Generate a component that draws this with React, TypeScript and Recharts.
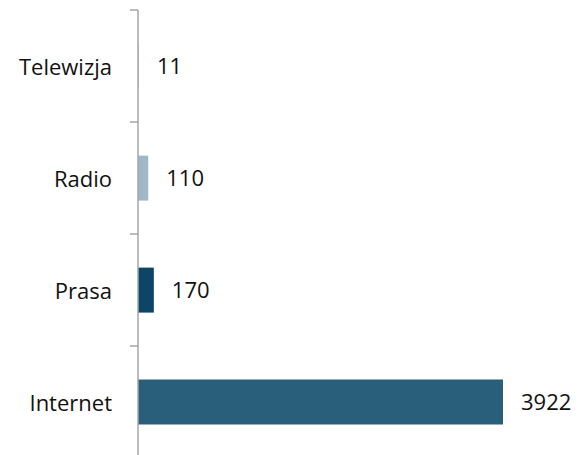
import { BarChart, Bar, XAxis, YAxis, Cell, LabelList } from "recharts";

const categories = ["Telewizja", "Radio", "Prasa", "Internet"];
const values = [11, 110, 170, 3922];
const barColors = ["#b9cdd9", "#9fb8c8", "#0c4566", "#2a5f7b"];

const data = categories.map((name, i) => ({ name, value: values[i] }));

const FONT = "'Open Sans', 'Noto Sans', sans-serif";
const TICK_SIZE = 8;
const TICK_MARGIN = 18;

const CategoryTick = (props: any) => {
  const { x, y, payload, index, visibleTicksCount } = props;
  const half = payload && payload.offset ? payload.offset : 56;
  const axisX = x + TICK_MARGIN + TICK_SIZE;
  const isLast = index === (visibleTicksCount ?? categories.length) - 1;
  return (
    <g>
      <line x1={axisX - TICK_SIZE} x2={axisX} y1={y - half} y2={y - half} stroke="#a6a6a6" strokeWidth={1.5} />
      {isLast && (
        <line x1={axisX - TICK_SIZE} x2={axisX} y1={y + half} y2={y + half} stroke="#a6a6a6" strokeWidth={1.5} />
      )}
      <text x={x} y={y} textAnchor="end" dominantBaseline="central" fontSize={22} fill="#111" fontFamily={FONT}>
        {payload.value}
      </text>
    </g>
  );
};

export default function App() {
  return (
    <div style={{ position: "fixed", left: 0, top: 0, width: 579, height: 455, overflow: "hidden", background: "#fff" }}>
      <BarChart
        width={579}
        height={458}
        data={data}
        layout="vertical"
        margin={{ top: 10, right: 76, bottom: 0, left: 0 }}
        barCategoryGap="30%"
      >
        <XAxis type="number" hide domain={[0, 3922]} />
        <YAxis
          type="category"
          dataKey="name"
          width={138}
          tickSize={TICK_SIZE}
          tickMargin={TICK_MARGIN}
          tickLine={false}
          axisLine={{ stroke: "#a6a6a6", strokeWidth: 1.5 }}
          tick={<CategoryTick />}
          interval={0}
        />
        <Bar dataKey="value" isAnimationActive={false}>
          {data.map((d, i) => (
            <Cell key={d.name} fill={barColors[i]} />
          ))}
          <LabelList
            dataKey="value"
            position="right"
            offset={18}
            fontSize={22}
            fill="#111"
            fontFamily={FONT}
          />
        </Bar>
      </BarChart>
    </div>
  );
}
